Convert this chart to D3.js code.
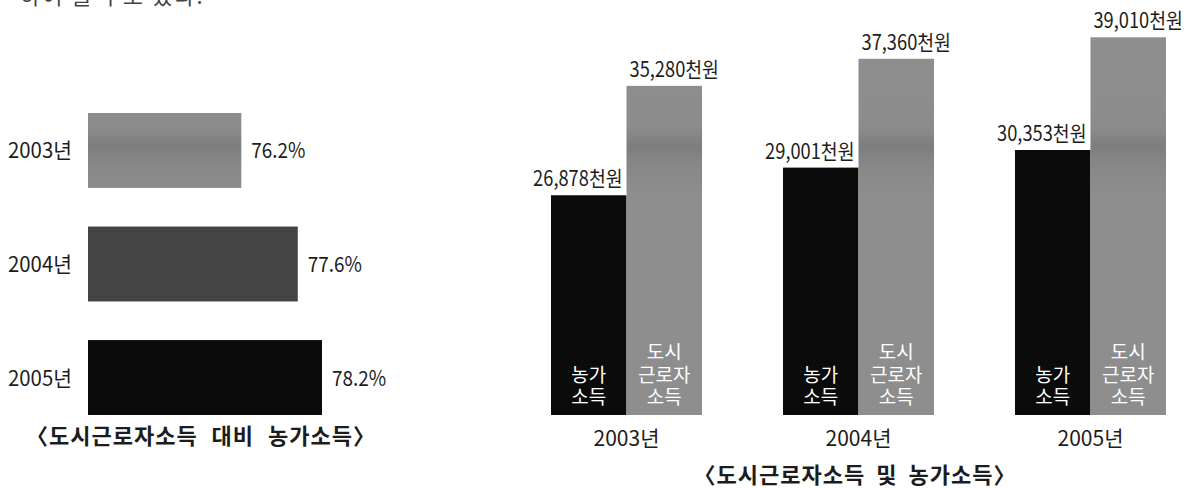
<!DOCTYPE html>
<html>
<head>
<meta charset="utf-8">
<script src="https://cdn.jsdelivr.net/npm/d3@7"></script>
<style>
  html, body { margin: 0; padding: 0; background: #fff; }
  svg { display: block; }
  text { font-family: "Noto Sans CJK KR", "Noto Sans", sans-serif; }
</style>
</head>
<body>
<svg id="chart" width="1201" height="488"></svg>
<script>
// ---- data ----
const ratioYears = ["2003년", "2004년", "2005년"];
const ratioValues = [76.2, 77.6, 78.2];
const ratioTitle = "〈도시근로자소득 대비 농가소득〉";

const incomeYears = ["2003년", "2004년", "2005년"];
const farmIncome = [26878, 29001, 30353];
const urbanIncome = [35280, 37360, 39010];
const seriesKeys = ["farm", "urban"];
const seriesLabels = [["농가", "소득"], ["도시", "근로자", "소득"]];
const incomeUnit = "천원";
const incomeTitle = "〈도시근로자소득 및 농가소득〉";

const topFragment = "하여 볼 수도 있다.";

// ---- setup ----
const svg = d3.select("#chart");
const ink = "#1c1c1c";

function condense(sel, f) {
  sel.each(function () {
    const len = this.getComputedTextLength();
    d3.select(this).attr("textLength", len * f).attr("lengthAdjust", "spacingAndGlyphs");
  });
}

// gradient for scanned grey bars (darker band)
const defs = svg.append("defs");
const grad = defs.append("linearGradient").attr("id", "greyBand")
  .attr("gradientUnits", "userSpaceOnUse").attr("x1", 0).attr("x2", 0).attr("y1", 0).attr("y2", 488);
[[0, "#909090"], [0.26, "#8c8c8c"], [0.30, "#7d7d7d"], [0.33, "#868686"], [0.40, "#8e8e8e"], [1, "#8d8d8d"]]
  .forEach(([o, c]) => grad.append("stop").attr("offset", o).attr("stop-color", c));

// top clipped body text
svg.append("text").attr("x", 20).attr("y", 4).attr("font-size", 22).attr("letter-spacing", 2)
  .attr("fill", "#444").text(topFragment);

// ---- left chart: horizontal bars ----
const xL = d3.scaleLinear().domain([72.4, 78.2]).range([88, 322]);
const yL = d3.scaleBand().domain(ratioYears).range([113, 415]).paddingInner(0.34).paddingOuter(0);
const leftFills = ["url(#greyBand)", "#444444", "#0b0b0b"];

const left = svg.append("g");
left.selectAll("rect").data(ratioValues).join("rect")
  .attr("x", xL.range()[0])
  .attr("y", (d, i) => yL(ratioYears[i]))
  .attr("width", d => xL(d) - xL.range()[0])
  .attr("height", yL.bandwidth())
  .attr("fill", (d, i) => leftFills[i]);

left.selectAll("text.yr").data(ratioYears).join("text").attr("class", "yr")
  .attr("x", 8).attr("y", d => yL(d) + yL.bandwidth() / 2 + 8)
  .attr("font-size", 21).attr("fill", ink).text(d => d)
  .call(condense, 0.97);

left.selectAll("text.val").data(ratioValues).join("text").attr("class", "val")
  .attr("x", d => xL(d) + 10).attr("y", (d, i) => yL(ratioYears[i]) + yL.bandwidth() / 2 + 8)
  .attr("font-size", 21).attr("fill", ink).text(d => d.toFixed(1) + "%")
  .call(condense, 0.9);

left.append("text").attr("x", 201).attr("y", 444).attr("text-anchor", "middle")
  .attr("font-size", 22).attr("font-weight", "bold").attr("letter-spacing", 1).attr("word-spacing", 8)
  .attr("fill", ink).text(ratioTitle);

// ---- right chart: grouped vertical bars ----
const x0 = d3.scaleBand().domain(incomeYears).range([551, 1166]).paddingInner(0.349).paddingOuter(0);
const x1 = d3.scaleBand().domain(seriesKeys).range([0, x0.bandwidth()]).padding(0);
const yR = d3.scaleLinear().domain([10000, 40000]).range([415, 24.4]);
const fills = { farm: "#0b0b0b", urban: "url(#greyBand)" };

const rows = incomeYears.map((yr, i) => ({ yr, values: [farmIncome[i], urbanIncome[i]] }));
const fmt = d3.format(",");

const groups = svg.append("g").selectAll("g").data(rows).join("g")
  .attr("transform", d => `translate(${x0(d.yr)},0)`);

groups.selectAll("rect").data(d => d.values.map((v, k) => ({ key: seriesKeys[k], v }))).join("rect")
  .attr("x", d => x1(d.key))
  .attr("y", d => yR(d.v))
  .attr("width", x1.bandwidth())
  .attr("height", d => yR.range()[0] - yR(d.v))
  .attr("fill", d => fills[d.key]);

// value labels
groups.selectAll("text.val").data(d => d.values.map((v, k) => ({ key: seriesKeys[k], v }))).join("text")
  .attr("class", "val")
  .attr("x", d => d.key === "farm" ? x1(d.key) + x1.bandwidth() - 4 : x1(d.key) + 3)
  .attr("y", d => yR(d.v) - 9)
  .attr("text-anchor", d => d.key === "farm" ? "end" : "start")
  .attr("font-size", 21).attr("fill", ink)
  .text(d => fmt(d.v) + incomeUnit)
  .call(condense, 0.87);

// inside labels
seriesKeys.forEach((key, k) => {
  const lines = seriesLabels[k];
  groups.append("text")
    .attr("text-anchor", "middle").attr("font-size", 19).attr("fill", "#fff")
    .selectAll("tspan").data(lines).join("tspan")
    .attr("x", x1(key) + x1.bandwidth() / 2)
    .attr("y", (d, j) => yR.range()[0] - 11 - (lines.length - 1 - j) * 22.5)
    .text(d => d);
});

// year labels
groups.append("text")
  .attr("x", x0.bandwidth() / 2).attr("y", 446).attr("text-anchor", "middle")
  .attr("font-size", 21).attr("fill", ink).text(d => d.yr);

svg.append("text").attr("x", 855).attr("y", 483).attr("text-anchor", "middle")
  .attr("font-size", 22).attr("font-weight", "bold").attr("letter-spacing", 1).attr("word-spacing", 5)
  .attr("fill", ink).text(incomeTitle);
</script>
</body>
</html>
